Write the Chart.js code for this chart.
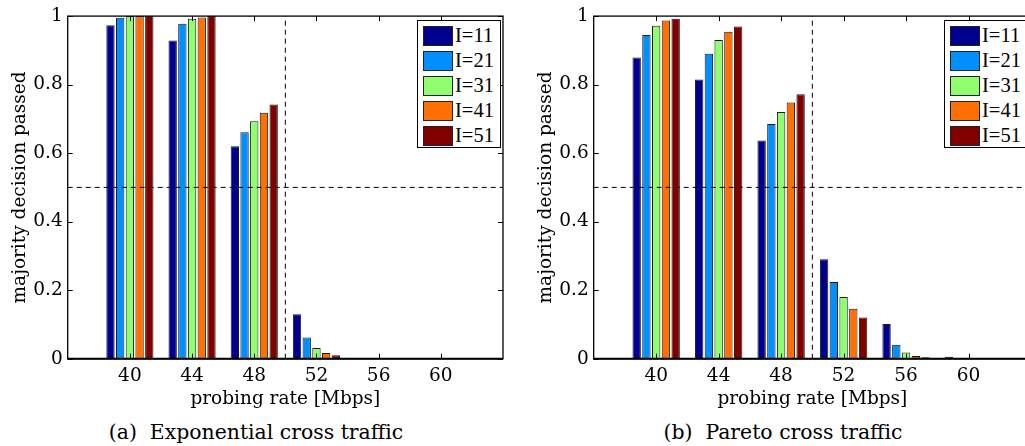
<!DOCTYPE html>
<html><head><meta charset="utf-8">
<script src="https://cdn.jsdelivr.net/npm/chart.js@4/dist/chart.umd.min.js"></script>
<style>
html,body{margin:0;padding:0;background:#fff;overflow:hidden;width:1025px;height:446px;position:relative;}
.wrap{position:absolute;top:0;height:412px;}
#w1{left:0;width:512px;}
#w2{left:512px;width:530px;}
.legend{position:absolute;top:20px;width:82px;height:126px;border:1.5px solid #000;background:#fff;}
.row{position:absolute;left:5px;height:19px;}
.sw{position:absolute;left:0;top:0;width:28px;height:18px;border:1px solid #222;}
.lt{position:absolute;left:32px;top:-3px;font-family:"Liberation Serif";font-size:20.5px;line-height:24px;white-space:nowrap;color:#000;}
.cap{position:absolute;top:420px;font-family:"DejaVu Serif";font-size:20.4px;line-height:24px;white-space:pre;color:#000;transform:translateX(-50%);}
</style></head>
<body>
<div class="wrap" id="w1"><canvas id="c1"></canvas></div>
<div class="wrap" id="w2"><canvas id="c2"></canvas></div>
<div class="legend" id="lg1" style="left:417px;"></div>
<div class="legend" id="lg2" style="left:944px;"></div>
<div class="cap" style="left:256px;">(a)  Exponential cross traffic</div>
<div class="cap" style="left:783px;">(b)  Pareto cross traffic</div>
<script>
const rates = [40, 44, 48, 52, 56, 60];
const seriesLabels = ['I=11', 'I=21', 'I=31', 'I=41', 'I=51'];
const seriesColors = ['#00008F', '#008FFF', '#8FFF70', '#FF7000', '#800000'];
const yTicks = [0, 0.2, 0.4, 0.6, 0.8, 1];
const xTickLabels = ['40', '44', '48', '52', '56', '60'];
const thresholdRate = 50;
const thresholdPass = 0.5;
const xMin = 36, xMax = 64;

// (a) Exponential cross traffic
const expI11 = [0.973, 0.929, 0.620, 0.130, 0, 0];
const expI21 = [0.995, 0.978, 0.661, 0.062, 0, 0.001];
const expI31 = [1.000, 0.992, 0.693, 0.031, 0, 0];
const expI41 = [1.000, 0.996, 0.718, 0.017, 0, 0];
const expI51 = [1.000, 1.000, 0.742, 0.010, 0, 0];

// (b) Pareto cross traffic
const parI11 = [0.879, 0.815, 0.637, 0.290, 0.101, 0.006];
const parI21 = [0.945, 0.890, 0.685, 0.224, 0.041, 0.001];
const parI31 = [0.972, 0.930, 0.720, 0.180, 0.018, 0];
const parI41 = [0.987, 0.954, 0.748, 0.146, 0.008, 0];
const parI51 = [0.992, 0.970, 0.772, 0.120, 0.004, 0];

const FONT = 'DejaVu Serif';

function buildLegend(id) {
  const el = document.getElementById(id);
  seriesLabels.forEach((lab, i) => {
    const r = document.createElement('div');
    r.className = 'row';
    r.style.top = (4.5 + i * 25) + 'px';
    r.innerHTML = '<div class="sw" style="background:' + seriesColors[i] + '"></div><div class="lt">' + lab + '</div>';
    el.appendChild(r);
  });
}
buildLegend('lg1');
buildLegend('lg2');

const frame = {
  id: 'frame',
  afterDraw(chart) {
    const ctx = chart.ctx, a = chart.chartArea;
    const xs = chart.scales.x, ys = chart.scales.y;
    ctx.save();
    ctx.strokeStyle = '#000';
    ctx.lineWidth = 1;
    ctx.beginPath();
    rates.forEach(v => {
      const px = Math.round(xs.getPixelForValue(v)) + 0.5;
      ctx.moveTo(px, a.bottom); ctx.lineTo(px, a.bottom - 5);
      ctx.moveTo(px, a.top); ctx.lineTo(px, a.top + 5);
    });
    yTicks.forEach(v => {
      const py = Math.round(ys.getPixelForValue(v)) + 0.5;
      ctx.moveTo(a.left, py); ctx.lineTo(a.left + 5, py);
      ctx.moveTo(a.right, py); ctx.lineTo(a.right - 5, py);
    });
    ctx.stroke();
    ctx.lineWidth = 1.3;
    ctx.strokeRect(a.left, a.top, a.right - a.left, a.bottom - a.top);
    ctx.lineWidth = 2;
    ctx.beginPath();
    ctx.moveTo(a.left, a.bottom); ctx.lineTo(a.right, a.bottom);
    ctx.stroke();
    ctx.restore();
  }
};

function makeChart(canvasId, series, padLeft, padRight) {
  const datasets = series.map((vals, i) => ({
    type: 'bar',
    label: seriesLabels[i],
    data: rates.map((r, j) => ({ x: r, y: vals[j] })),
    backgroundColor: seriesColors[i],
    borderColor: '#1a1a1a',
    borderWidth: 1,
    categoryPercentage: 0.78,
    barPercentage: 0.86,
    order: 2
  }));
  datasets.push({
    type: 'line', label: 'vline',
    data: [{ x: thresholdRate, y: 0 }, { x: thresholdRate, y: 1 }],
    borderColor: '#000', borderWidth: 1, borderDash: [5, 4],
    pointRadius: 0, fill: false, order: 1
  });
  datasets.push({
    type: 'line', label: 'hline',
    data: [{ x: xMin, y: thresholdPass }, { x: xMax, y: thresholdPass }],
    borderColor: '#000', borderWidth: 1, borderDash: [5, 4],
    pointRadius: 0, fill: false, order: 1
  });
  return new Chart(document.getElementById(canvasId), {
    type: 'bar',
    data: { datasets },
    options: {
      responsive: true,
      maintainAspectRatio: false,
      animation: false,
      events: [],
      layout: { padding: { left: padLeft, right: padRight, top: 15.7, bottom: 0 } },
      plugins: { legend: { display: false }, tooltip: { enabled: false } },
      scales: {
        x: {
          type: 'linear', min: xMin, max: xMax, offset: false,
          grid: { display: false, drawTicks: false, offset: false },
          border: { display: false },
          afterBuildTicks(s) { s.ticks = [xMin].concat(rates, [xMax]).map(v => ({ value: v })); },
          ticks: {
            autoSkip: false, maxRotation: 0, padding: 6, color: '#000',
            font: { family: FONT, size: 18.5 },
            callback(v) { const k = rates.indexOf(v); return k >= 0 ? xTickLabels[k] : ''; }
          },
          title: { display: true, text: 'probing rate [Mbps]', color: '#000',
                   font: { family: FONT, size: 18.5 }, padding: { top: 0, bottom: 2 } },
          afterFit(s) { s.height = 412 - 358.7; }
        },
        y: {
          min: 0, max: 1,
          grid: { display: false, drawTicks: false },
          border: { display: false },
          afterBuildTicks(s) { s.ticks = yTicks.map(v => ({ value: v })); },
          ticks: { padding: 5, color: '#000', font: { family: FONT, size: 18.5 },
                   callback(v) { return String(Math.round(v * 10) / 10); } },
          title: { display: true, text: 'majority decision passed', color: '#000',
                   font: { family: FONT, size: 18.5 }, padding: { top: 0, bottom: 0 } },
          afterFit(s) { s.width = 58.7; }
        }
      }
    },
    plugins: [frame]
  });
}

makeChart('c1', [expI11, expI21, expI31, expI41, expI51], 9, 9);
makeChart('c2', [parI11, parI21, parI31, parI41, parI51], 23, 11);
</script>
</body></html>
